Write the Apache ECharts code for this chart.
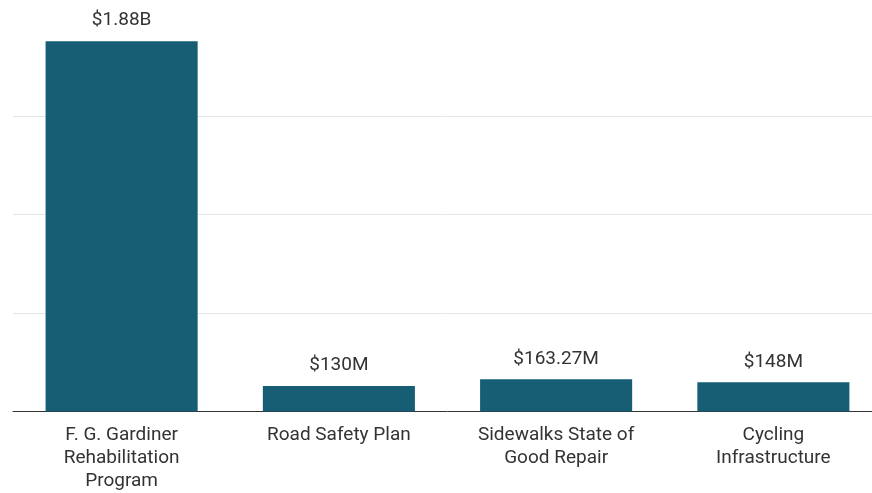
<!DOCTYPE html>
<html>
<head>
<meta charset="utf-8">
<script src="https://cdn.jsdelivr.net/npm/echarts@6/dist/echarts.min.js"></script>
<style>
html,body{margin:0;padding:0;background:#fff;overflow:hidden;width:872px;height:493px;}
#chart{width:884px;height:493px;}
</style>
</head>
<body>
<div id="chart"></div>
<script>
const categories = [
  "F. G. Gardiner\nRehabilitation\nProgram",
  "Road Safety Plan",
  "Sidewalks State of\nGood Repair",
  "Cycling\nInfrastructure"
];
const valuesMillions = [1880, 130, 163.27, 148];
const valueLabels = ["$1.88B", "$130M", "$163.27M", "$148M"];

const chart = echarts.init(document.getElementById('chart'), null, {renderer: 'canvas'});
chart.setOption({
  animation: false,
  textStyle: {fontFamily: 'Roboto'},
  grid: {left: 13, top: 17.5, width: 869, height: 394, containLabel: false},
  xAxis: {
    type: 'category',
    data: categories,
    axisTick: {show: false},
    axisLine: {show: true, lineStyle: {color: '#333', width: 1}},
    axisLabel: {
      interval: 0, color: '#333', fontSize: 19, lineHeight: 23, margin: 12,
      fontFamily: 'Roboto'
    }
  },
  yAxis: {
    type: 'value',
    min: 0, max: 2000, interval: 500,
    axisLabel: {show: false},
    axisLine: {show: false},
    axisTick: {show: false},
    splitLine: {
      show: true, showMaxLine: false, showMinLine: false,
      lineStyle: {color: ['#e6e6e6', '#e6e6e6', '#e6e6e6', '#e6e6e6', 'rgba(0,0,0,0)'], width: 1}
    }
  },
  series: [{
    type: 'bar',
    data: valuesMillions,
    barWidth: '70%',
    itemStyle: {color: '#175e74'},
    label: {
      show: true, position: 'top', distance: 11,
      color: '#333', fontSize: 19, fontFamily: 'Roboto',
      formatter: p => valueLabels[p.dataIndex]
    }
  }]
});
</script>
</body>
</html>
